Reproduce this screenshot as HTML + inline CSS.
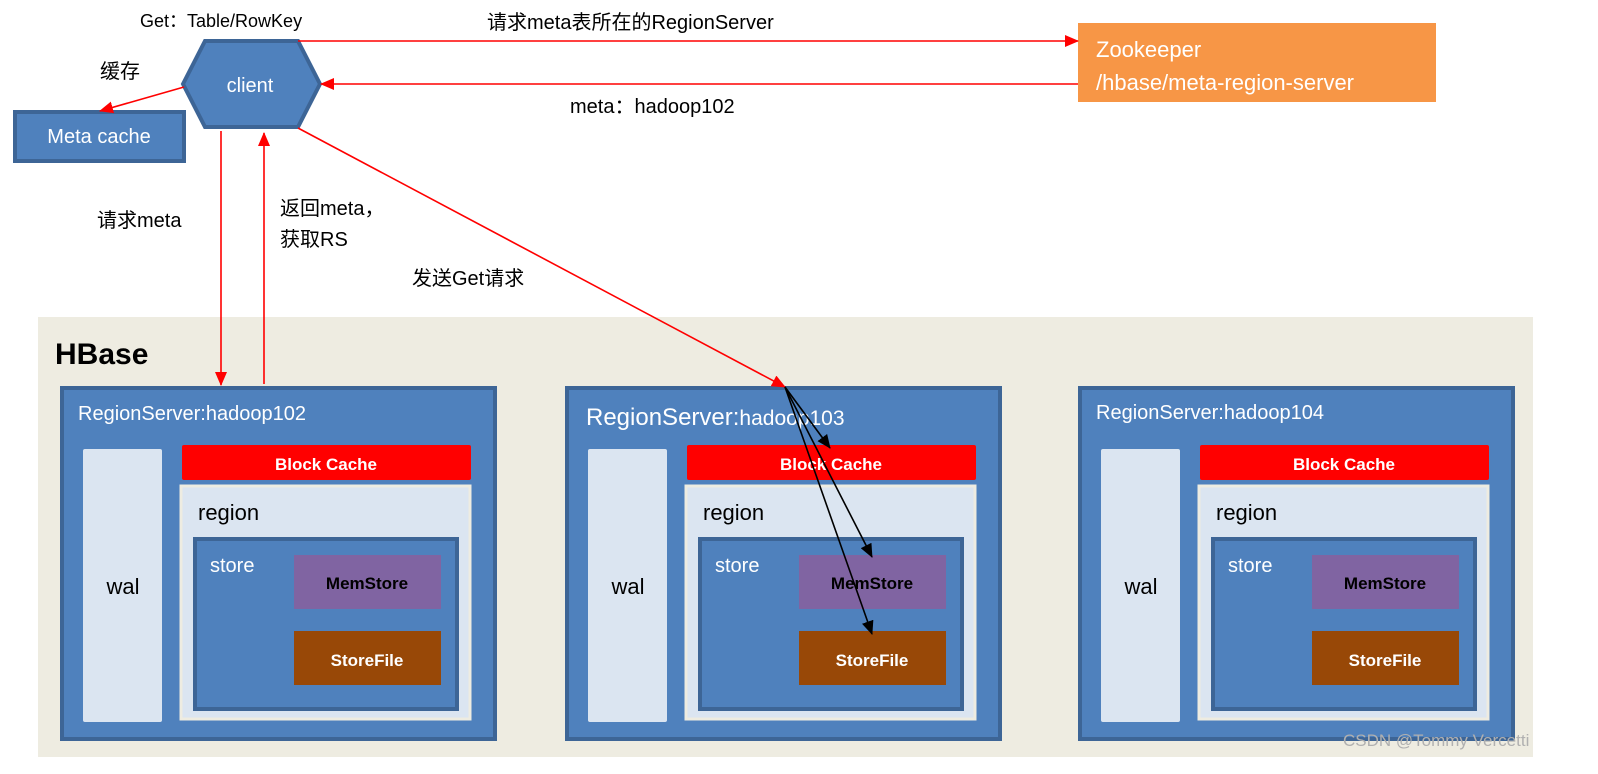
<!DOCTYPE html>
<html><head><meta charset="utf-8"><style>
body{margin:0;background:#fff;}
svg{display:block;font-family:"Liberation Sans","Noto Sans CJK SC",sans-serif;}
</style></head><body>
<svg width="1598" height="774" viewBox="0 0 1598 774" xmlns="http://www.w3.org/2000/svg">
<defs>
<marker id="ar" markerWidth="14" markerHeight="12" refX="13" refY="6" orient="auto" markerUnits="userSpaceOnUse"><path d="M0,0 L14,6 L0,12 z" fill="#f00"/></marker>
<marker id="ab" markerWidth="14" markerHeight="12" refX="13" refY="6" orient="auto" markerUnits="userSpaceOnUse"><path d="M0,0 L14,6 L0,12 z" fill="#000"/></marker>
</defs>
<rect x="38" y="317" width="1495" height="440" fill="#eeece1"/>
<text x="55" y="364" font-size="30" font-weight="bold" fill="#000">HBase</text>

<g id="rs">
<rect x="62" y="388" width="433" height="351" fill="#4f81bd" stroke="#3d6596" stroke-width="4"/>
<rect x="83" y="449" width="79" height="273" fill="#dbe5f1" rx="2"/>
<rect x="182" y="445" width="289" height="35" fill="#f00" rx="2"/>
<rect x="181" y="486" width="289" height="233" fill="#dbe5f1" stroke="#eeece1" stroke-width="3"/>
<rect x="195" y="539" width="262" height="170" fill="#4f81bd" stroke="#3d6596" stroke-width="4"/>
<rect x="294" y="555" width="147" height="54" fill="#8064a2"/>
<rect x="294" y="631" width="147" height="54" fill="#984807"/>
<text x="326" y="470" font-size="17" font-weight="bold" fill="#fff" text-anchor="middle">Block Cache</text>
<text x="123" y="594" font-size="22" fill="#000" text-anchor="middle">wal</text>
<text x="198" y="520" font-size="22" fill="#000">region</text>
<text x="210" y="572" font-size="20" fill="#fff">store</text>
<text x="367" y="589" font-size="17" font-weight="bold" fill="#000" text-anchor="middle">MemStore</text>
<text x="367" y="666" font-size="17" font-weight="bold" fill="#fff" text-anchor="middle">StoreFile</text>
</g>
<use href="#rs" x="505"/>
<use href="#rs" x="1018"/>
<text x="78" y="420" font-size="20" fill="#fff">RegionServer:hadoop102</text>
<text x="586" y="425" font-size="24" fill="#fff">RegionServer:<tspan font-size="21">hadoop103</tspan></text>
<text x="1096" y="419" font-size="20" fill="#fff">RegionServer:hadoop104</text>

<polygon points="183,84 205,41 298,41 320,84 298,127 205,127" fill="#4f81bd" stroke="#3d6596" stroke-width="4"/>
<text x="250" y="92" font-size="20" fill="#fff" text-anchor="middle">client</text>
<rect x="15" y="112" width="169" height="49" fill="#4f81bd" stroke="#3d6596" stroke-width="4"/>
<text x="99" y="143" font-size="20" fill="#fff" text-anchor="middle">Meta cache</text>
<rect x="1078" y="23" width="358" height="79" fill="#f79646"/>
<text x="1096" y="57" font-size="22" fill="#fff">Zookeeper</text>
<text x="1096" y="90" font-size="22" fill="#fff">/hbase/meta-region-server</text>

<g stroke="#f00" stroke-width="1.6" fill="none">
<line x1="298" y1="41" x2="1078" y2="41" marker-end="url(#ar)"/>
<line x1="1078" y1="84" x2="321" y2="84" marker-end="url(#ar)"/>
<line x1="184" y1="87" x2="100" y2="111" marker-end="url(#ar)"/>
<line x1="221" y1="131" x2="221" y2="385" marker-end="url(#ar)"/>
<line x1="264" y1="384" x2="264" y2="133" marker-end="url(#ar)"/>
<line x1="298" y1="128" x2="785" y2="387" marker-end="url(#ar)"/>
</g>
<g stroke="#000" stroke-width="1.6">
<line x1="785" y1="387" x2="830" y2="448" marker-end="url(#ab)"/>
<line x1="785" y1="387" x2="872" y2="557" marker-end="url(#ab)"/>
<line x1="785" y1="387" x2="872" y2="634" marker-end="url(#ab)"/>
</g>

<g font-size="20" fill="#000">
<text x="140" y="27" font-size="18">Get：Table/RowKey</text>
<text x="487" y="29">请求meta表所在的RegionServer</text>
<text x="570" y="113">meta：hadoop102</text>
<text x="100" y="78">缓存</text>
<text x="97" y="227">请求meta</text>
<text x="280" y="215">返回meta，</text>
<text x="280" y="246">获取RS</text>
<text x="412" y="285">发送Get请求</text>
</g>
<text x="1343" y="746" font-size="17" fill="#b0b0b0">CSDN @Tommy Vercetti</text>
</svg>
</body></html>
